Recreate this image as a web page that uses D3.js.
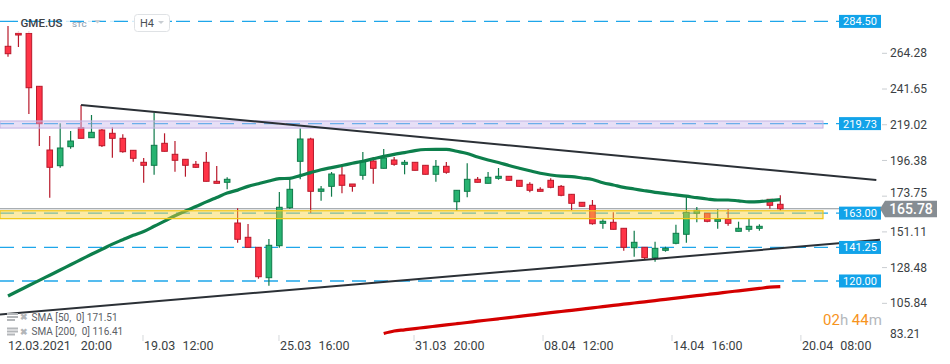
<!DOCTYPE html>
<html><head><meta charset="utf-8">
<script src="https://cdn.jsdelivr.net/npm/d3@7/dist/d3.min.js"></script>
<style>body{margin:0;background:#fff}svg{display:block;font-family:Roboto,"Noto Sans",sans-serif}</style>
</head><body><svg id="c" width="950" height="364"></svg>
<script>
// ---- data ----
const opens  = [268.72,277.15,276.96,243.37,203.00,193.06,205.10,217.14,210.80,215.68,213.59,210.42,202.81,195.21,193.31,207.25,200.28,197.11,193.94,195.21,183.17,182.54,156.74,147.68,141.34,122.08,142.36,166.44,195.84,209.98,176.83,179.98,187.16,181.46,186.97,196.03,191.41,196.67,193.94,195.21,193.31,187.61,192.68,170.24,176.83,184.44,181.90,185.07,186.34,183.81,181.27,178.10,183.81,179.98,174.93,169.86,167.96,156.55,157.19,153.39,141.09,141.34,134.75,139.44,143.88,149.59,162.89,162.89,157.82,159.09,151.49,152.75,153.39,171.76,168.60];
const highs  = [281.58,278.41,278.41,243.56,211.88,219.93,215.04,231.52,225.18,216.31,217.39,212.95,203.00,197.94,226.64,213.59,208.71,197.30,196.03,201.74,192.87,185.71,166.06,156.11,141.53,146.61,176.39,184.44,216.76,210.80,180.19,189.06,193.31,181.46,201.74,198.57,203.64,198.57,196.67,195.21,193.31,196.67,195.40,177.66,194.57,185.90,189.06,191.60,186.53,183.99,182.54,179.37,185.07,180.83,175.12,170.05,171.32,159.09,163.53,153.58,151.86,141.53,144.90,141.73,155.67,173.41,166.88,163.08,165.43,165.43,157.57,159.47,155.92,171.95,174.30];
const lows   = [262.13,268.28,225.82,205.54,172.78,191.79,203.83,210.29,210.80,204.91,198.12,201.29,195.59,182.28,187.35,202.06,189.25,186.09,191.79,183.05,181.78,178.10,144.26,141.22,121.45,117.01,141.09,165.62,184.44,163.27,170.88,173.41,175.57,176.58,184.18,181.65,191.28,193.06,187.61,190.02,187.48,182.92,187.99,164.54,173.03,182.41,181.78,184.18,183.68,179.87,176.20,176.71,178.74,173.66,164.79,167.20,155.67,153.13,152.62,139.19,135.39,133.49,132.22,138.56,143.25,144.26,157.19,157.19,153.13,155.03,151.36,151.23,151.86,165.80,164.54];
const closes = [264.03,275.88,242.48,219.67,192.04,204.27,208.71,210.42,214.22,205.73,210.42,201.93,197.75,193.31,205.98,202.18,196.48,193.31,192.04,183.17,181.90,184.44,146.42,141.34,122.71,142.62,166.70,178.10,209.98,176.83,178.29,187.80,180.64,179.98,196.03,191.41,197.94,193.94,195.21,190.14,187.61,192.68,188.88,177.47,184.44,182.54,185.71,186.34,183.81,179.98,177.47,176.83,179.37,174.30,169.23,167.33,156.30,157.82,152.75,141.34,144.51,134.75,140.71,140.71,150.22,163.53,164.79,157.82,159.09,156.55,153.39,154.65,154.65,167.96,165.78];
const sma50  = [110.48,113.78,117.14,120.37,123.67,126.96,130.32,133.61,136.91,140.08,143.37,146.16,148.95,151.36,154.65,157.95,161.31,164.35,167.20,170.12,172.90,175.69,177.59,179.94,181.65,183.36,184.82,185.07,186.78,188.68,190.46,191.85,193.18,194.58,195.91,197.43,198.95,200.28,201.36,202.63,203.32,203.45,203.45,202.18,200.79,198.57,196.67,195.08,193.18,191.47,189.82,188.24,187.16,186.40,186.15,185.26,184.31,182.28,180.83,179.31,178.29,177.21,176.20,175.38,174.55,173.73,172.78,171.95,171.32,171.32,170.75,170.18,170.31,170.94,171.51];
const sma200 = [null,null,null,null,null,null,null,null,null,null,null,null,null,null,null,null,null,null,null,null,null,null,null,null,null,null,null,null,null,null,null,null,null,null,null,null,86.72,88.31,89.06,89.83,90.65,91.41,92.17,92.93,93.69,94.52,95.28,96.04,96.80,97.56,98.32,99.14,99.90,100.66,101.42,102.18,102.94,103.77,104.53,105.29,106.05,106.81,107.57,108.39,109.15,109.91,110.67,111.44,112.20,113.02,113.78,114.54,115.30,116.06,116.41];
const priceTicks = [264.28,241.65,219.02,196.38,173.75,151.11,128.48,105.84,83.21];
const levelValues = [284.50,219.73,163.00,141.25,120.00];
const bandLow  = [216.9,159.5];
const bandHigh = [221.4,164.5];
const lastPrice = 165.78;
const timeDates = ["12.03.2021","19.03","25.03","31.03","08.04","14.04","20.04"];
const timeHours = ["20:00","12:00","16:00","20:00","12:00","16:00","08:00"];
const timeIdx   = [0,13.03,26.06,39.0,51.36,63.72,76.07];
const upperTrendIdx = [7,83.2],   upperTrendVal = [231.52,183.99];
const lowerTrendIdx = [-0.77,83.55], lowerTrendVal = [98.70,146.10];
const legendNames = ["SMA [50,  0]","SMA [200,  0]"];
const legendValues = [171.51,116.41];
const symbol = "GME.US", symbolSub = "STC", timeframe = "H4";
const countdown = ["02","h"," 44","m"];

// ---- drawing ----
const svg = d3.select("#c");
const x = d3.scaleLinear().domain([0,74]).range([8,780.3]);
const y = d3.scaleLinear().domain([105.84,264.28]).range([303.33,53.31]);
const BLUE="#1ea6ea", RED="#ff3447", REDS="#b8192b", GRN="#27b371", GRNS="#0f7a4a";
const idx = d3.range(opens.length);

const gL = svg.append("g");
levelValues.forEach(v=>{
  gL.append("line").attr("x1",0).attr("x2",839).attr("y1",y(v)).attr("y2",y(v))
    .attr("stroke",BLUE).attr("stroke-width",1.3).attr("stroke-dasharray","14,8");
});
svg.append("line").attr("x1",0).attr("x2",882).attr("y1",y(lastPrice)).attr("y2",y(lastPrice))
  .attr("stroke","#8d9398").attr("stroke-width",1.2);

const gc = svg.append("g");
idx.forEach(i=>{
  const up = closes[i]>=opens[i];
  gc.append("line").attr("x1",x(i)).attr("x2",x(i)).attr("y1",y(highs[i])).attr("y2",y(lows[i]))
    .attr("stroke",up?GRNS:REDS).attr("stroke-width",1.2);
  const t=y(Math.max(opens[i],closes[i])), b=y(Math.min(opens[i],closes[i]));
  gc.append("rect").attr("x",x(i)-2.8).attr("width",5.6).attr("y",t).attr("height",Math.max(1.2,b-t))
    .attr("fill",up?GRN:RED).attr("stroke",up?GRNS:REDS).attr("stroke-width",1);
});

const line = d3.line().defined(d=>d[1]!=null).x(d=>x(d[0])).y(d=>y(d[1])).curve(d3.curveMonotoneX);
svg.append("path").attr("d",line(idx.map(i=>[i,sma50[i]]))).attr("fill","none")
  .attr("stroke","#0d7f4c").attr("stroke-width",3.2).attr("stroke-linejoin","round");
svg.append("path").attr("d",line(idx.map(i=>[i,sma200[i]]))).attr("fill","none")
  .attr("stroke","#d40000").attr("stroke-width",3.2);

svg.append("rect").attr("x",0).attr("width",823).attr("y",y(bandHigh[0])).attr("height",y(bandLow[0])-y(bandHigh[0]))
  .attr("fill","#c9b9ea").attr("fill-opacity",0.45).attr("stroke","#c3b3e3").attr("stroke-width",1);
svg.append("rect").attr("x",0).attr("width",823).attr("y",y(bandHigh[1])).attr("height",y(bandLow[1])-y(bandHigh[1]))
  .attr("fill","#f7d23e").attr("fill-opacity",0.45).attr("stroke","#f3c716").attr("stroke-width",1.2);

svg.append("line").attr("x1",x(upperTrendIdx[0])).attr("y1",y(upperTrendVal[0])).attr("x2",x(upperTrendIdx[1])).attr("y2",y(upperTrendVal[1]))
  .attr("stroke","#2b3036").attr("stroke-width",2);
svg.append("line").attr("x1",x(lowerTrendIdx[0])).attr("y1",y(lowerTrendVal[0])).attr("x2",x(lowerTrendIdx[1])).attr("y2",y(lowerTrendVal[1]))
  .attr("stroke","#2b3036").attr("stroke-width",2);

svg.append("rect").attr("x",13).attr("y",10).attr("width",160).attr("height",23).attr("fill","#fff").attr("fill-opacity",0.8);
svg.append("line").attr("x1",13).attr("x2",175).attr("y1",y(levelValues[0])).attr("y2",y(levelValues[0]))
  .attr("stroke",BLUE).attr("stroke-width",1.3).attr("stroke-dasharray","14,8").attr("stroke-dashoffset",-13);
svg.append("text").attr("x",20.5).attr("y",27).attr("font-size",11.5).attr("font-weight",500).attr("fill","#3c4146").text(symbol);
svg.append("text").attr("x",72).attr("y",27).attr("font-size",8).attr("font-weight",500).attr("fill","#8fa3b5").text(symbolSub);
svg.append("path").attr("d","M94,20 L101,20 L97.5,23.5 Z").attr("fill","#c8cdd2");
svg.append("rect").attr("x",134.5).attr("y",14.5).attr("width",35).attr("height",17).attr("rx",3).attr("fill","#fff").attr("stroke","#dfe2e5");
svg.append("text").attr("x",140).attr("y",27).attr("font-size",11).attr("fill","#4a4f55").text(timeframe);
svg.append("path").attr("d","M158,21 L164,21 L161,24 Z").attr("fill","#c8cdd2");

levelValues.forEach(v=>{
  svg.append("rect").attr("x",839).attr("y",y(v)-6.5).attr("width",42).attr("height",13).attr("fill","#12a3e9");
  svg.append("text").attr("x",860).attr("y",y(v)).attr("dy","0.36em").attr("text-anchor","middle")
    .attr("font-size",11).attr("fill","#fff").text(v.toFixed(2));
});

const yp = y(lastPrice);
priceTicks.forEach(v=>{
  let yy = Math.min(y(v),334);
  const ty = yy;
  if (Math.abs(yy-yp)<15.5) yy = yp-15.5;
  if (y(v)<330) svg.append("line").attr("x1",882).attr("x2",887).attr("y1",ty).attr("y2",ty).attr("stroke","#c9cdd1");
  svg.append("text").attr("x",890).attr("y",yy).attr("dy","0.34em").attr("font-size",12).attr("fill","#3b3f44").text(v.toFixed(2));
});
svg.append("path").attr("d",`M880,${yp} L885,${yp-8} L937,${yp-8} L937,${yp+8.5} L885,${yp+8.5} Z`).attr("fill","#868d93");
svg.append("text").attr("x",911).attr("y",yp).attr("dy","0.36em").attr("text-anchor","middle")
  .attr("font-size",14).attr("font-weight",500).attr("fill","#fff").text(lastPrice.toFixed(2));

const ct = svg.append("text").attr("x",823).attr("y",320).attr("dy","0.36em").attr("font-size",15);
countdown.forEach((s,k)=>ct.append("tspan").attr("fill",k%2===0?"#f7941d":"#b4b8bc").attr("style","white-space:pre").text(s));

timeIdx.forEach((t,k)=>{
  const xx = x(t);
  if (k>0) svg.append("line").attr("x1",xx-1).attr("x2",xx-1).attr("y1",335).attr("y2",341).attr("stroke","#d5d8db");
  const tx = svg.append("text").attr("x",xx).attr("y",345).attr("dy","0.36em").attr("font-size",12.5).attr("fill","#3b3f44");
  tx.append("tspan").text(timeDates[k]);
  tx.append("tspan").attr("dx",k===0?10:7).text(timeHours[k]);
});

legendNames.forEach((n,k)=>{
  const ly = 317 + k*14.5;
  const g = svg.append("g").attr("fill","#b3b6b9");
  g.append("rect").attr("x",7).attr("y",ly-4).attr("width",11).attr("height",2);
  g.append("rect").attr("x",7).attr("y",ly-1).attr("width",11).attr("height",2);
  g.append("rect").attr("x",7).attr("y",ly+2).attr("width",8).attr("height",2);
  svg.append("text").attr("x",20).attr("y",ly).attr("dy","0.36em").attr("font-size",9).attr("font-weight",700).attr("fill","#b3b6b9").text("✖");
  svg.append("text").attr("x",31.5).attr("y",ly).attr("dy","0.36em").attr("font-size",10).attr("fill","#5b6066")
    .attr("style","white-space:pre").text(n+" "+legendValues[k].toFixed(2));
});
</script></body></html>
